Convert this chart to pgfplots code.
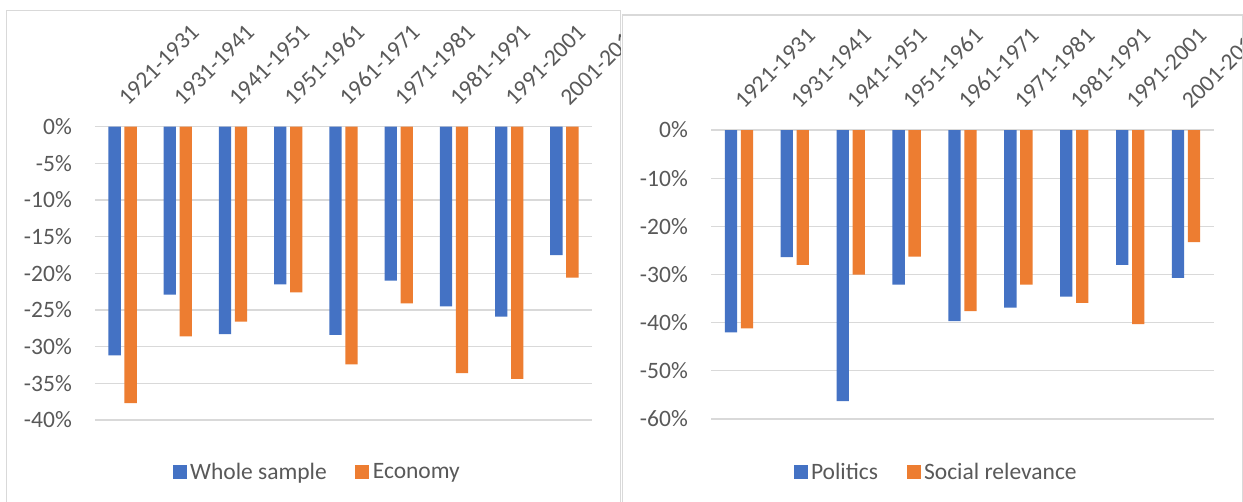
\documentclass[border=0pt]{standalone}
\usepackage{fontspec}
\setmainfont{Carlito}
\usepackage{pgfplots}
\pgfplotsset{compat=1.18}
\definecolor{cblue}{HTML}{4472C4}
\definecolor{corange}{HTML}{ED7D31}
\definecolor{tgray}{HTML}{595959}
\definecolor{ggray}{HTML}{D9D9D9}
\newcommand{\fs}{\fontsize{23.5}{28}\selectfont}
\pgfplotsset{
  excelbar/.style={
    scale only axis,
    ybar=3.7pt,
    bar width=12.3pt,
    xmin=-0.5, xmax=8.5,
    xtick={0,...,8},
    xticklabels={1921-1931,1931-1941,1941-1951,1951-1961,1961-1971,1971-1981,1981-1991,1991-2001,2001-2011},
    xticklabel pos=upper,
    xticklabel style={xshift=5pt, yshift=20pt, rotate=45, anchor=base west, inner sep=0pt, font=\fs, text=tgray},
    yticklabel style={anchor=east, inner sep=0pt, xshift=-23pt, font=\fs, text=tgray},
    major tick length=0pt,
    axis line style={draw=none},
    ymajorgrids,
    grid style={color=ggray, line width=1.3pt},
    /pgf/number format/assume math mode=true,
    legend columns=2,
    legend image code/.code={\fill[##1] (0pt,-7pt) rectangle (14pt,7pt);},
    legend style={draw=none, fill=none, font=\fs, text=tgray, anchor=center,
      column sep=0pt, nodes={inner sep=3.5pt},
      /tikz/every even column/.append style={column sep=25pt}},
  }
}
\begin{document}
\begin{tikzpicture}
\useasboundingbox (0,0) rectangle (1243pt,501pt);
\fill[white] (0,0) rectangle (1243pt,501pt);
\draw[ggray, line width=1.3pt] (6.7pt,-10pt) rectangle (620.7pt,490.3pt);
\draw[ggray, line width=1.3pt] (622.7pt,-10pt) rectangle (1242.3pt,486pt);
\begin{scope}
\clip (7.5pt,0pt) rectangle (620pt,489.5pt);
\begin{axis}[excelbar,
  at={(95pt,81pt)}, anchor=south west,
  width=497pt, height=293.3pt,
  ymin=-40, ymax=0,
  ytick={-40,-35,-30,-25,-20,-15,-10,-5,0},
  yticklabels={-40\%,-35\%,-30\%,-25\%,-20\%,-15\%,-10\%,-5\%,0\%},
  legend style={at={(axis description cs:0.4487,-0.177)}},
]
\addplot[fill=cblue, draw=none] coordinates {(0,-31.2) (1,-22.9) (2,-28.3) (3,-21.5) (4,-28.4) (5,-21.0) (6,-24.5) (7,-25.9) (8,-17.5)};
\addplot[fill=corange, draw=none] coordinates {(0,-37.7) (1,-28.6) (2,-26.6) (3,-22.6) (4,-32.4) (5,-24.1) (6,-33.6) (7,-34.4) (8,-20.6)};
\legend{Whole sample, Economy}
\end{axis}
\end{scope}
\begin{scope}
\clip (623.5pt,0pt) rectangle (1241.5pt,485.3pt);
\begin{axis}[excelbar,
  at={(711pt,82pt)}, anchor=south west,
  width=503pt, height=289pt,
  ymin=-60, ymax=0,
  ytick={-60,-50,-40,-30,-20,-10,0},
  yticklabels={-60\%,-50\%,-40\%,-30\%,-20\%,-10\%,0\%},
  legend style={at={(axis description cs:0.449,-0.183)}},
]
\addplot[fill=cblue, draw=none] coordinates {(0,-42.0) (1,-26.4) (2,-56.3) (3,-32.1) (4,-39.7) (5,-36.9) (6,-34.6) (7,-28.0) (8,-30.7)};
\addplot[fill=corange, draw=none] coordinates {(0,-41.2) (1,-28.0) (2,-30.0) (3,-26.3) (4,-37.6) (5,-32.1) (6,-35.9) (7,-40.3) (8,-23.3)};
\legend{Politics, Social relevance}
\end{axis}
\end{scope}
\end{tikzpicture}
\end{document}
